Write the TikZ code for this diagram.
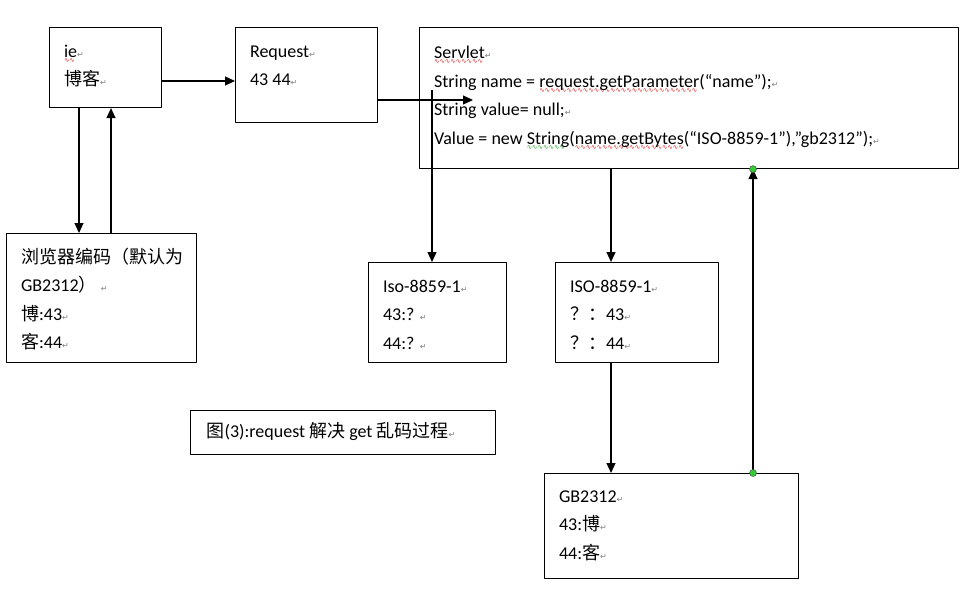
\documentclass[tikz,border=0pt]{standalone}
\usepackage{fontspec}
\setmainfont{Carlito}
\newfontfamily\cjk{Noto Sans CJK SC}
\newfontfamily\symfont{DejaVu Sans}
\usetikzlibrary{arrows.meta}

\definecolor{handlegreen}{HTML}{33CC33}
\definecolor{spellred}{HTML}{E02020}
\definecolor{grammargreen}{HTML}{20A020}

% Word paragraph mark and spell-check waves
\newcommand{\parmark}{{\symfont\fontsize{8}{8}\selectfont\textcolor{black!50}{↵}}}
\newcommand{\wavy}[2]{\setbox0\hbox{#2}\rlap{\raisebox{-5pt}[0pt][0pt]{\textcolor{#1}{\leaders\hbox{\symfont\fontsize{6.5}{6.5}\selectfont ∿}\hskip\wd0}}}\box0}
\newcommand{\redwave}[1]{\wavy{spellred}{#1}}
\newcommand{\greenwave}[1]{\wavy{grammargreen}{#1}}
% text block of a box: width, height, lines
\newcommand{\boxtext}[4][9.5pt]{\parbox[c][#3][t]{#2}{\raggedright\fontsize{18}{28.5}\selectfont\vspace*{#1}\strut #4}}

\begin{document}
\begin{tikzpicture}[x=1pt, y=-1pt, line join=round,
  box/.style={draw, line width=1.1pt, inner xsep=14.5pt, inner ysep=0pt, anchor=north west},
  arr/.style={-{Triangle[length=10pt,width=9pt]}, line width=1.2pt},
  handle/.style={fill=handlegreen, draw=black!70, line width=0.5pt}]
	\path[fill=white, use as bounding box] (0,0) rectangle (965,605);
	% boxes
	\node[box] (ie) at (49,27) {\boxtext{83pt}{80pt}{\redwave{ie}\parmark\\{\cjk 博客}\parmark}};
	\node[box] (req) at (235,27) {\boxtext{113pt}{95pt}{Request\parmark\\43 44\parmark}};
	\node[box] (servlet) at (419,27) {\boxtext[11pt]{510pt}{141pt}{\redwave{Servlet}\parmark\\
		String name = \redwave{request.getParameter}(“name”);\parmark\\
		String value= null;\parmark\\
		Value = new \greenwave{String}(\redwave{name.getBytes}(“ISO-8859-1”),”gb2312”);\parmark}};
	\node[box] (browser) at (6,233) {\boxtext{161pt}{129pt}{{\cjk 浏览器编码（默认为}\\
		GB2312{\cjk ）} \parmark\\{\cjk 博}:43\parmark\\{\cjk 客}:44\parmark}};
	\node[box] (iso1) at (368,262) {\boxtext{109pt}{100pt}{Iso-8859-1\parmark\\43:? \parmark\\44:? \parmark}};
	\node[box] (iso2) at (555,262) {\boxtext{134pt}{100pt}{ISO-8859-1\parmark\\{\cjk ？：}43\parmark\\{\cjk ？：}44\parmark}};
	\node[box, inner xsep=16pt] (caption) at (190,410) {\boxtext[7pt]{273pt}{44pt}{{\cjk 图}(3):request {\cjk 解决} get {\cjk 乱码过程}\parmark}};
	\node[box] (gb) at (544,473) {\boxtext[8.5pt]{225pt}{105pt}{GB2312\parmark\\43:{\cjk 博}\parmark\\44:{\cjk 客}\parmark}};
	% free ends and bend points
	\coordinate (reqtip) at (473,100);
	\coordinate (isostart) at (432,90);
	\coordinate (isomid) at ([xshift=56pt]iso2.north west);
	\coordinate (gbhandle) at ([xshift=209pt]gb.north west);
	\coordinate (servhandle) at (gbhandle |- servlet.south);
	% connectors
	\draw[arr] ([yshift=-54pt]ie.north east) -- ([yshift=-54pt]req.north west);
	\draw[arr] ([xshift=30pt]ie.south west) -- ([xshift=73pt]browser.north west);
	\draw[arr] ([xshift=105pt]browser.north west) -- ([xshift=62pt]ie.south west);
	\draw[arr] ([yshift=-73pt]req.north east) -- (reqtip);
	\draw[arr] (isostart) -- (isostart |- iso1.north);
	\draw[arr] (isomid |- servlet.south) -- (isomid);
	\draw[arr] ([xshift=56pt]iso2.south west) -- ([xshift=67pt]gb.north west);
	\draw[arr] (gbhandle) -- (servhandle);
	\draw[handle] (gbhandle) circle (3.5pt) (servhandle) circle (3.5pt);
\end{tikzpicture}
\end{document}
